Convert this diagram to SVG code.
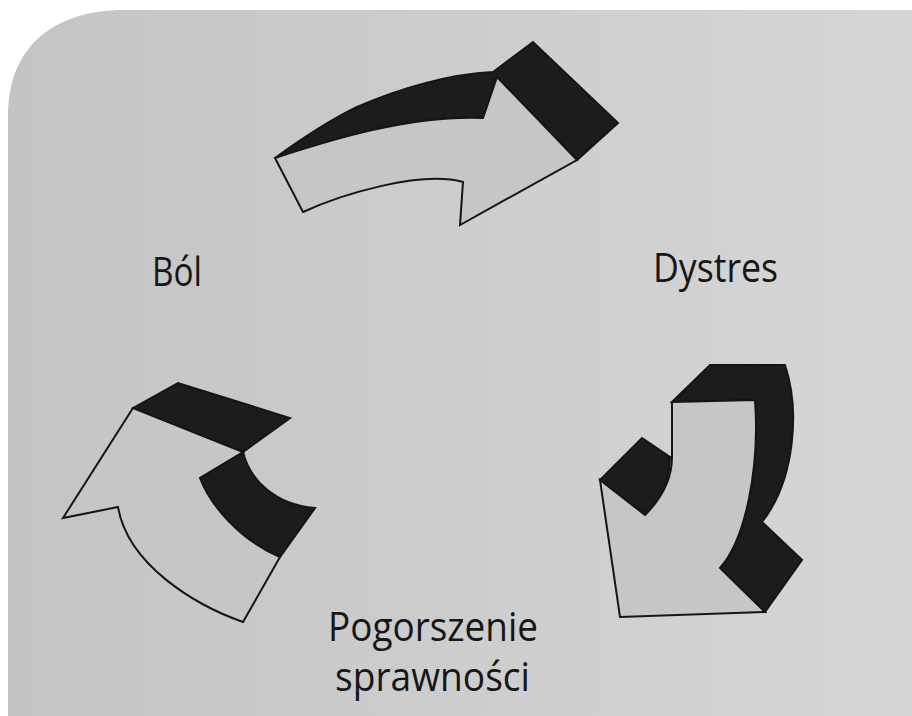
<svg xmlns="http://www.w3.org/2000/svg" width="912" height="716" viewBox="0 0 912 716">
<defs>
<linearGradient id="paper" x1="0" y1="0" x2="1" y2="0">
<stop offset="0" stop-color="#c4c4c4"/>
<stop offset="1" stop-color="#d6d6d6"/>
</linearGradient>
<style>
.face{fill:#c6c6c6;stroke:#151515;stroke-width:2;stroke-linejoin:miter}
.side{fill:#1c1c1c;stroke:#151515;stroke-width:2;stroke-linejoin:miter}
.lbl{font-family:"Open Sans","Noto Sans","DejaVu Sans",sans-serif;font-size:40px;fill:#161616}
</style>
</defs>
<rect x="0" y="0" width="912" height="716" fill="#ffffff"/>
<path d="M8,716 L8,115 C8,50 50,10 125,10 L912,10 L912,716 Z" fill="url(#paper)"/>
<g id="connectors">
<g id="arrow-top">
<path class="side" d="M275,158 C300,140 330,120 357,107 C400,88 450,74 493,72 L533,42 L618,123 L577,160 L497,77 L483,118 C410,115 330,140 275,158 Z"/>
<path class="face" d="M275,158 C330,140 410,115 483,118 L497,77 L577,160 L460,225 L463,182 C420,170 340,195 303,212 Z"/>
</g>
<g id="arrow-right">
<path class="side" d="M672,402 L710,365 L785,365 C800,410 795,480 762,522 L802,560 L765,612 L720,568 C745,540 760,470 755,400 Z"/>
<path class="side" d="M600,480 L642,438 L670,457 C670,480 660,500 645,515 Z"/>
<path class="face" d="M672,402 L755,400 C760,470 745,540 720,568 L765,612 L620,617 L600,480 L645,515 C660,500 672,480 672,457 Z"/>
</g>
<g id="arrow-left">
<path class="side" d="M133,408 L178,383 L290,418 L243,452 Z"/>
<path class="side" d="M243,452 C250,480 275,505 315,508 L280,557 C240,540 210,505 200,478 Z"/>
<path class="face" d="M133,408 L243,452 L200,478 C210,505 240,540 280,557 L243,622 C195,605 128,565 118,507 L63,518 Z"/>
</g>
</g>
<g id="node-bol"><text class="lbl" x="152" y="286" textLength="50" lengthAdjust="spacingAndGlyphs">Ból</text></g>
<g id="node-dystres"><text class="lbl" x="653" y="282" textLength="125" lengthAdjust="spacingAndGlyphs">Dystres</text></g>
<g id="node-pogorszenie">
<text class="lbl" x="328" y="641" textLength="210" lengthAdjust="spacingAndGlyphs">Pogorszenie</text>
<text class="lbl" x="335" y="691" textLength="195" lengthAdjust="spacingAndGlyphs">sprawności</text>
</g>
</svg>
